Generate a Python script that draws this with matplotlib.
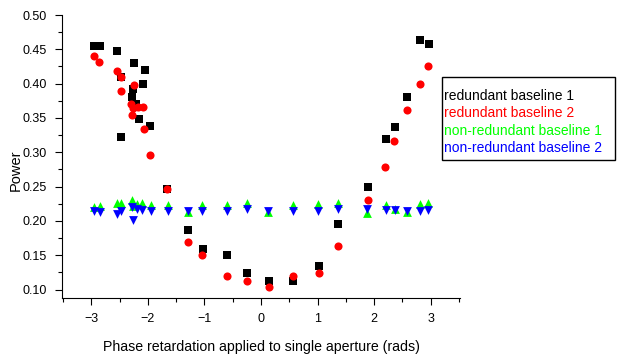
import matplotlib
matplotlib.use("Agg")
import matplotlib.pyplot as plt
from matplotlib.patches import Rectangle
from matplotlib.ticker import MultipleLocator, FormatStrFormatter

plt.rcParams["font.family"] = ["Liberation Sans", "DejaVu Sans"]

# redundant baseline 1 (black squares)
rb1_x = [-2.95, -2.85, -2.55, -2.47, -2.47, -2.27, -2.28, -2.24, -2.21, -2.15, -2.08, -2.06,
         -1.96, -1.66, -1.29, -1.03, -0.61, -0.24, 0.14, 0.57, 1.02, 1.37, 1.89, 2.21,
         2.37, 2.59, 2.82, 2.97]
rb1_y = [0.455, 0.455, 0.447, 0.410, 0.322, 0.392, 0.381, 0.430, 0.371, 0.349, 0.400, 0.420,
         0.339, 0.246, 0.187, 0.159, 0.150, 0.124, 0.113, 0.113, 0.134, 0.196, 0.249, 0.320,
         0.337, 0.380, 0.4635, 0.458]

# redundant baseline 2 (red circles)
rb2_x = [-2.96, -2.86, -2.55, -2.47, -2.47, -2.25, -2.30, -2.26, -2.17, -2.08, -2.28, -2.07,
         -1.96, -1.66, -1.29, -1.04, -0.61, -0.25, 0.14, 0.57, 1.02, 1.37, 1.89, 2.20,
         2.35, 2.58, 2.81, 2.96]
rb2_y = [0.440, 0.432, 0.419, 0.410, 0.389, 0.398, 0.371, 0.364, 0.366, 0.366, 0.355, 0.334,
         0.296, 0.246, 0.170, 0.151, 0.120, 0.112, 0.104, 0.120, 0.124, 0.163, 0.231, 0.278,
         0.316, 0.361, 0.400, 0.425]

# non-redundant baselines share the phase steps
nr_x = [-2.96, -2.85, -2.55, -2.47, -2.28, -2.26, -2.20, -2.10, -1.95, -1.65, -1.29, -1.04,
        -0.61, -0.25, 0.13, 0.57, 1.01, 1.37, 1.88, 2.21, 2.37, 2.58, 2.82, 2.96]
nr1_y = [0.221, 0.222, 0.226, 0.2255, 0.230, 0.222, 0.224, 0.2255, 0.2226, 0.2226, 0.213, 0.2226,
         0.2226, 0.2255, 0.213, 0.2226, 0.2245, 0.2265, 0.212, 0.2226, 0.2177, 0.213, 0.2245, 0.2265]
nr2_y = [0.214, 0.213, 0.210, 0.215, 0.2197, 0.201, 0.218, 0.216, 0.215, 0.215, 0.215, 0.2148,
         0.2148, 0.2177, 0.215, 0.2148, 0.2138, 0.2177, 0.2168, 0.2158, 0.2158, 0.2138, 0.2148, 0.2158]

labels = ["redundant baseline 1", "redundant baseline 2",
          "non-redundant baseline 1", "non-redundant baseline 2"]
colors = ["black", "red", "#00ff00", "blue"]

W, H = 618, 356
fig = plt.figure(figsize=(W / 100, H / 100), dpi=100)
ax = fig.add_axes([62 / W, 1 - 298 / H, 398 / W, 283 / H])

ax.scatter(rb1_x, rb1_y, marker="s", s=28, color=colors[0], linewidths=0, zorder=3)
ax.scatter(rb2_x, rb2_y, marker="o", s=34, color=colors[1], linewidths=0, zorder=4)
ax.scatter(nr_x, nr1_y, marker="^", s=40, color=colors[2], linewidths=0, zorder=5)
ax.scatter(nr_x, nr2_y, marker="v", s=40, color=colors[3], linewidths=0, zorder=6)

ax.set_xlim(-3.52, 3.52)
ax.set_ylim(0.0877, 0.50)
ax.xaxis.set_major_locator(MultipleLocator(1))
ax.xaxis.set_minor_locator(MultipleLocator(0.5))
ax.yaxis.set_major_locator(MultipleLocator(0.05))
ax.yaxis.set_minor_locator(MultipleLocator(0.025))
ax.yaxis.set_major_formatter(FormatStrFormatter("%.2f"))
ax.spines["top"].set_visible(False)
ax.spines["right"].set_visible(False)
ax.tick_params(which="major", direction="out", length=5, width=0.8, labelsize=9, pad=6)
ax.tick_params(which="minor", direction="out", length=3, width=0.8)

ax.set_xlabel("Phase retardation applied to single aperture (rads)", fontsize=10.2)
ax.xaxis.set_label_coords(0.5, -0.15)
ax.set_ylabel("Power", fontsize=10.5)
ax.yaxis.set_label_coords(-0.098, 0.452)

# legend: plain coloured text in a black box
fig.patches.append(Rectangle((442 / W, 1 - 160 / H), 173 / W, 83 / H, transform=fig.transFigure,
                             fill=False, edgecolor="black", linewidth=1.0))
for i, (lab, c) in enumerate(zip(labels, colors)):
    fig.text(444 / W, 1 - (96 + 17.3 * i) / H, lab, color=c, fontsize=10,
             ha="left", va="center")

fig.savefig("out.png", dpi=100)
